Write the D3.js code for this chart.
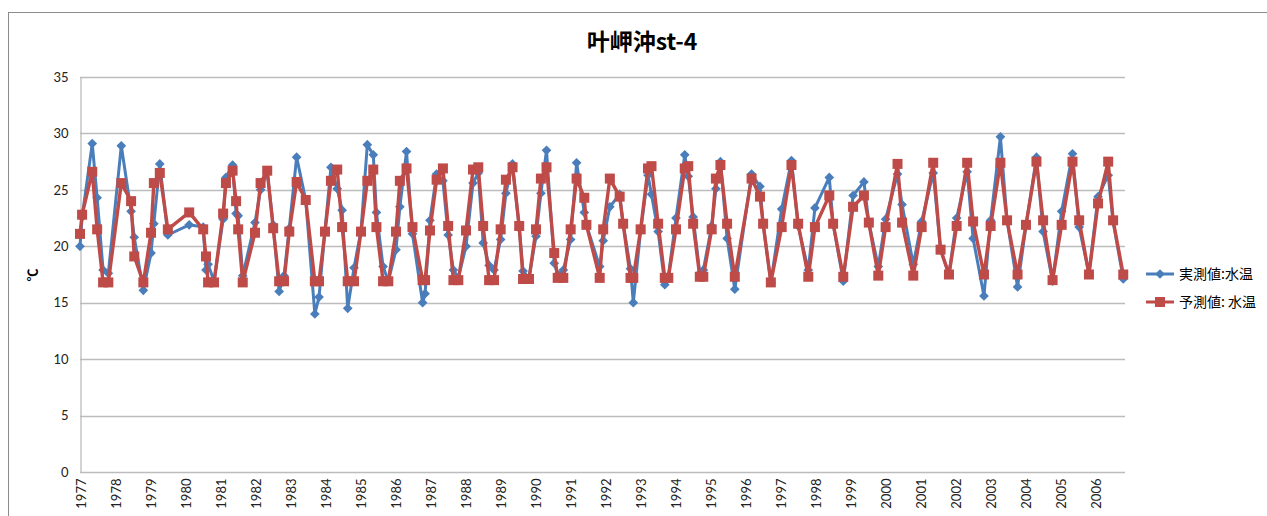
<!DOCTYPE html>
<html>
<head>
<meta charset="utf-8">
<script src="https://cdn.jsdelivr.net/npm/d3@7"></script>
<style>
  html, body { margin: 0; padding: 0; background: #fff; }
  svg { display: block; }
</style>
</head>
<body>
<svg id="chart" width="1267" height="516"></svg>
<script>
// Survey dates (decimal years) for station 叶岬沖 st-4
const dates = [
  1976.96, 1977.02, 1977.31, 1977.45, 1977.62, 1977.77,
  1978.14, 1978.42, 1978.51, 1978.77, 1978.99,
  1979.07, 1979.24, 1979.47,
  1980.08, 1980.48, 1980.56, 1980.62, 1980.79,
  1981.05, 1981.13, 1981.32, 1981.42, 1981.48, 1981.61, 1981.96,
  1982.12, 1982.31, 1982.48, 1982.65, 1982.79, 1982.94,
  1983.15, 1983.41, 1983.67, 1983.79, 1983.96,
  1984.13, 1984.31, 1984.45, 1984.61, 1984.79, 1984.99,
  1985.17, 1985.34, 1985.43, 1985.62, 1985.77, 1985.99,
  1986.10, 1986.29, 1986.46, 1986.75, 1986.82, 1986.96,
  1987.15, 1987.33, 1987.48, 1987.63, 1987.77, 1987.99,
  1988.19, 1988.34, 1988.48, 1988.65, 1988.79, 1988.98,
  1989.13, 1989.32, 1989.51, 1989.62, 1989.79, 1989.99,
  1990.13, 1990.29, 1990.51, 1990.61, 1990.77, 1990.98,
  1991.15, 1991.37, 1991.43, 1991.81, 1991.91,
  1992.10, 1992.38, 1992.48, 1992.69, 1992.77, 1992.98,
  1993.19, 1993.29, 1993.48, 1993.67, 1993.77, 1993.99,
  1994.24, 1994.34, 1994.48, 1994.67, 1994.77,
  1995.01, 1995.13, 1995.26, 1995.45, 1995.67,
  1996.15, 1996.39, 1996.48, 1996.70,
  1997.01, 1997.29, 1997.48, 1997.77, 1997.96,
  1998.37, 1998.48, 1998.77,
  1999.05, 1999.36, 1999.50, 1999.77, 1999.98,
  2000.32, 2000.45, 2000.77,
  2001.01, 2001.34, 2001.55, 2001.79,
  2002.01, 2002.31, 2002.48, 2002.79, 2002.98,
  2003.26, 2003.45, 2003.75, 2003.99,
  2004.29, 2004.48, 2004.75,
  2005.01, 2005.32, 2005.51, 2005.79,
  2006.05, 2006.34, 2006.48, 2006.77
];

// 実測値: measured water temperature (°C)
const observed = [
  20.0, 22.6, 29.1, 24.3, 17.9, 17.6,
  28.9, 23.1, 20.8, 16.1, 19.4,
  22.0, 27.3, 21.0,
  21.9, 21.7, 17.9, 18.4, 16.9,
  22.4, 26.1, 27.2, 22.9, 22.7, 17.4, 22.1,
  25.0, 26.6, 21.9, 16.0, 17.4, 21.6,
  27.9, 24.1, 14.0, 15.5, 21.4,
  27.0, 25.1, 23.2, 14.5, 18.1, 21.4,
  29.0, 28.1, 23.0, 18.2, 16.9, 19.7,
  23.5, 28.4, 21.1, 15.0, 15.8, 22.3,
  26.4, 25.8, 21.0, 17.9, 17.2, 20.0,
  25.6, 26.5, 20.3, 18.3, 17.9, 20.6,
  24.7, 27.3, 21.6, 17.8, 17.2, 20.9,
  24.7, 28.5, 18.5, 17.5, 17.9, 20.6,
  27.4, 23.0, 21.9, 18.2, 20.5,
  23.5, 24.6, 22.0, 18.0, 15.0, 21.4,
  26.3, 24.6, 21.3, 16.6, 17.3, 22.5,
  28.1, 26.2, 22.6, 17.6, 17.9,
  21.8, 25.1, 27.5, 20.7, 16.2,
  26.4, 25.3, 22.0, 16.8,
  23.3, 27.6, 21.8, 17.9, 23.4,
  26.1, 22.0, 16.9,
  24.5, 25.7, 22.1, 18.2, 22.4,
  26.4, 23.7, 18.4,
  22.2, 26.5, 19.7, 17.5,
  22.5, 26.6, 20.7, 15.6, 22.3,
  29.7, 22.3, 16.4, 21.8,
  27.9, 21.3, 16.9,
  23.1, 28.2, 21.7, 17.6,
  24.4, 26.3, 22.2, 17.1
];

// 予測値: predicted water temperature (°C)
const predicted = [
  21.1, 22.8, 26.6, 21.5, 16.8, 16.8,
  25.6, 24.0, 19.1, 16.8, 21.2,
  25.6, 26.5, 21.5,
  23.0, 21.5, 19.1, 16.8, 16.8,
  22.9, 25.6, 26.7, 24.0, 21.5, 16.8, 21.2,
  25.6, 26.7, 21.6, 16.9, 16.9, 21.3,
  25.7, 24.1, 16.9, 16.9, 21.3,
  25.8, 26.8, 21.7, 16.9, 16.9, 21.3,
  25.8, 26.8, 21.7, 16.9, 16.9, 21.3,
  25.8, 26.9, 21.7, 17.0, 17.0, 21.4,
  25.9, 26.9, 21.8, 17.0, 17.0, 21.4,
  26.8, 27.0, 21.8, 17.0, 17.0, 21.5,
  25.9, 27.0, 21.8, 17.1, 17.1, 21.5,
  26.0, 27.0, 19.4, 17.2, 17.2, 21.5,
  26.0, 24.3, 21.9, 17.2, 21.5,
  26.0, 24.4, 22.0, 17.2, 17.2, 21.5,
  26.9, 27.1, 22.0, 17.2, 17.2, 21.5,
  26.9, 27.1, 22.0, 17.3, 17.3,
  21.5, 26.0, 27.2, 22.0, 17.3,
  26.0, 24.4, 22.0, 16.8,
  21.7, 27.2, 22.0, 17.3, 21.7,
  24.5, 22.0, 17.3,
  23.5, 24.5, 22.1, 17.4, 21.7,
  27.3, 22.1, 17.4,
  21.7, 27.4, 19.7, 17.5,
  21.8, 27.4, 22.2, 17.5, 21.8,
  27.4, 22.3, 17.5, 21.9,
  27.5, 22.3, 17.0,
  21.9, 27.5, 22.3, 17.5,
  23.8, 27.5, 22.3, 17.5
];

const yTicks = [0, 5, 10, 15, 20, 25, 30, 35];
const yearTicks = d3.range(1977, 2007);

const seriesNames = ["実測値:水温", "予測値: 水温"];
const seriesColors = ["#4a7ebb", "#be4b48"];

const svg = d3.select("#chart");
const W = 1267, H = 516;
const plot = { left: 80, right: 1125, top: 77, bottom: 472 };

const x = d3.scaleLinear().domain([1976.96, 2006.82]).range([plot.left, plot.right]);
const y = d3.scaleLinear().domain([0, 35]).range([plot.bottom, plot.top]);

// chart frame
svg.append("rect")
  .attr("x", 8.5).attr("y", 12.5)
  .attr("width", W + 20).attr("height", H + 20)
  .attr("fill", "#fff").attr("stroke", "#8c8c8c").attr("stroke-width", 1);

// title
svg.append("text")
  .attr("x", 642).attr("y", 50)
  .attr("text-anchor", "middle")
  .attr("font-family", "'Noto Sans CJK JP', sans-serif")
  .attr("font-weight", "bold")
  .attr("font-size", 23)
  .attr("fill", "#000")
  .text("叶岬沖st-4");

// horizontal gridlines
svg.append("g")
  .selectAll("line")
  .data(yTicks.filter(v => v > 0))
  .join("line")
  .attr("x1", plot.left).attr("x2", plot.right)
  .attr("y1", d => Math.round(y(d)) + 0.5).attr("y2", d => Math.round(y(d)) + 0.5)
  .attr("stroke", "#bcbcbc").attr("stroke-width", 1.3);

// y axis
const yAxis = d3.axisLeft(y).tickValues(yTicks).tickSize(0).tickPadding(12);
const gy = svg.append("g").attr("transform", `translate(${plot.left + 0.5},0)`).call(yAxis);
gy.select(".domain").attr("stroke", "#bcbcbc").attr("stroke-width", 1.3);
gy.selectAll("text")
  .attr("font-family", "Lato, 'Liberation Sans', sans-serif")
  .attr("font-size", 13).attr("fill", "#222");

// x axis
const xAxis = d3.axisBottom(x).tickValues(yearTicks).tickFormat(d3.format("d")).tickSize(0);
const gx = svg.append("g").attr("transform", `translate(0,${Math.round(plot.bottom) + 0.5})`).call(xAxis);
gx.select(".domain").attr("d", `M${plot.left},0H${plot.right}`).attr("stroke", "#bcbcbc").attr("stroke-width", 1.3);
gx.selectAll("text")
  .attr("font-family", "Lato, 'Liberation Sans', sans-serif")
  .attr("font-size", 13).attr("fill", "#222")
  .attr("text-anchor", "end")
  .attr("transform", "rotate(-90)")
  .attr("x", -6).attr("y", 0).attr("dy", "0.35em");

// y axis title
svg.append("text")
  .attr("transform", "translate(37,275) rotate(-90)")
  .attr("text-anchor", "middle")
  .attr("font-family", "'Noto Sans CJK JP', sans-serif")
  .attr("font-weight", "bold")
  .attr("font-size", 13)
  .attr("fill", "#000")
  .text("℃");

const rows = dates.map((d, i) => ({ t: d, obs: observed[i], pred: predicted[i] }));
const diamond = d3.symbol().type(d3.symbolDiamond2).size(60);

// measured series
svg.append("path")
  .datum(rows)
  .attr("fill", "none").attr("stroke", seriesColors[0]).attr("stroke-width", 3)
  .attr("stroke-linejoin", "round")
  .attr("d", d3.line().x(d => x(d.t)).y(d => y(d.obs)));
svg.append("g").selectAll("path")
  .data(rows).join("path")
  .attr("transform", d => `translate(${x(d.t)},${y(d.obs)})`)
  .attr("d", diamond)
  .attr("fill", seriesColors[0]);

// predicted series
svg.append("path")
  .datum(rows)
  .attr("fill", "none").attr("stroke", seriesColors[1]).attr("stroke-width", 3.4)
  .attr("stroke-linejoin", "round")
  .attr("d", d3.line().x(d => x(d.t)).y(d => y(d.pred)));
svg.append("g").selectAll("rect")
  .data(rows).join("rect")
  .attr("x", d => x(d.t) - 5).attr("y", d => y(d.pred) - 5)
  .attr("width", 10).attr("height", 10)
  .attr("fill", seriesColors[1]);

// legend
const legend = svg.append("g").attr("transform", "translate(1146,0)");
const legendY = [274, 302];
seriesNames.forEach((name, i) => {
  const g = legend.append("g").attr("transform", `translate(0,${legendY[i]})`);
  g.append("line").attr("x1", 0).attr("x2", 28).attr("y1", 0).attr("y2", 0)
    .attr("stroke", seriesColors[i]).attr("stroke-width", 3);
  if (i === 0) {
    g.append("path").attr("transform", "translate(14,0)").attr("d", diamond).attr("fill", seriesColors[i]);
  } else {
    g.append("rect").attr("x", 9).attr("y", -5).attr("width", 10).attr("height", 10).attr("fill", seriesColors[i]);
  }
  g.append("text")
    .attr("x", 33).attr("y", 0).attr("dy", "0.35em")
    .attr("font-family", "'Noto Sans CJK JP', sans-serif")
    .attr("font-size", 14).attr("fill", "#000")
    .text(name);
});
</script>
</body>
</html>
